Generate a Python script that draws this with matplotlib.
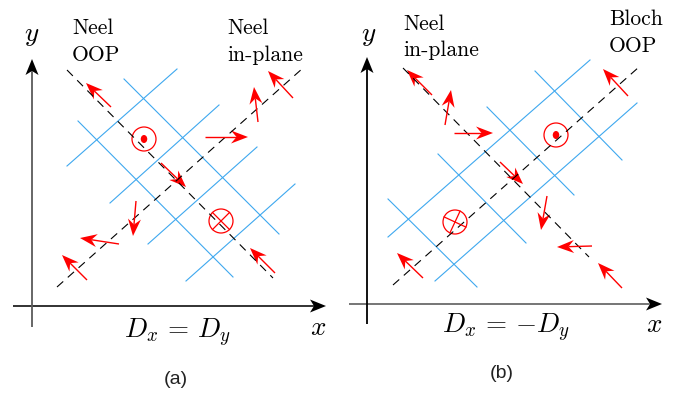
import matplotlib.pyplot as plt
import numpy as np
from matplotlib.patches import Circle, Ellipse, Polygon

plt.rcParams['mathtext.fontset'] = 'cm'

W, H = 688, 397
BLUE = '#3ea8ef'
RED = '#ff0000'

# ---- panel (a): Dx = Dy ----
grid_a = [
    ((67, 166), (177, 69)),
    ((110, 203), (219, 105)),
    ((148, 244), (257, 147)),
    ((186, 281), (295, 184)),
    ((124, 79), (279, 234)),
    ((78, 121), (233, 277)),
]
dashed_a = [((67, 70), (273, 278)), ((57, 287), (303, 68))]
# spins: (tail, head)
spins_a = [
    ((111, 107), (86, 83)),
    ((258, 122), (254, 87)),
    ((293, 98), (268, 71)),
    ((205, 137), (248, 137)),
    ((161, 163), (186, 187)),
    ((136, 201), (133, 236)),
    ((119, 244), (80, 238)),
    ((87, 280), (62, 255)),
    ((275, 273), (250, 248)),
]
dot_a = (144, 139)
cross_a = (221, 221, 45)
xaxis_a = ((13, 306), (326, 306))
yaxis_a = ((32, 327), (32, 59))
labels_a = [
    ('Neel', 72, 34), ('OOP', 72, 61),
    ('Neel', 227, 34), ('in-plane', 227, 61),
]
eq_a = (r'$D_x\,=\,D_y$', 178, 338)
xlab_a = (318, 335)
ylab_a = (32, 41)
tag_a = ('(a)', 176, 380)

# ---- panel (b): Dx = -Dy ----
grid_b = [
    ((388, 237), (590, 60)),
    ((435, 281), (637, 103)),
    ((535, 71), (622, 160)),
    ((487, 107), (574, 195)),
    ((438, 154), (526, 243)),
    ((388, 199), (477, 287)),
]
dashed_b = [((403, 68), (589, 257)), ((393, 285), (639, 67))]
spins_b = [
    ((432, 95), (407, 70)),
    ((445, 125), (451, 90)),
    ((454, 133), (493, 133)),
    ((500, 162), (523, 184)),
    ((547, 196), (541, 230)),
    ((592, 246), (557, 247)),
    ((622, 288), (598, 263)),
    ((423, 278), (397, 253)),
    ((628, 96), (603, 69)),
]
dot_b = (556, 135)
cross_b = (455, 222, 25)
xaxis_b = ((349, 304), (662, 304))
yaxis_b = ((367, 324), (367, 57))
labels_b = [
    ('Neel', 403, 30), ('in-plane', 403, 56.5),
    ('Bloch', 609, 25), ('OOP', 609, 51.5),
]
eq_b = (r'$D_x\,=\,{-}D_y$', 506, 333)
xlab_b = (654, 332)
ylab_b = (369, 41)
tag_b = ('(b)', 502, 374)


def draw_arrow(ax, tail, tip, shaft_color, head_color, lw, L, hw, notch):
    p0 = np.array(tail, float)
    p1 = np.array(tip, float)
    u = (p1 - p0) / np.hypot(*(p1 - p0))
    n = np.array([-u[1], u[0]])
    back = p1 - (L - notch) * u
    ax.plot([p0[0], back[0]], [p0[1], back[1]], color=shaft_color, lw=lw,
            solid_capstyle='butt')
    head = [p1, p1 - L * u + hw * n, back, p1 - L * u - hw * n]
    ax.add_patch(Polygon(head, closed=True, fc=head_color, ec='none'))


def draw_panel(ax, grid, dashed, spins, dot, cross, xaxis, yaxis,
               xcol, ycol, labels, eq, xlab, ylab, tag):
    for (x0, y0), (x1, y1) in grid:
        ax.plot([x0, x1], [y0, y1], color=BLUE, lw=0.8)
    for (x0, y0), (x1, y1) in dashed:
        ax.plot([x0, x1], [y0, y1], color='black', lw=0.8,
                linestyle=(0, (7.5, 5.5)))
    for tail, tip in spins:
        draw_arrow(ax, tail, tip, RED, RED, 1.0, 17, 6.5, 5.5)

    # out-of-plane up: circle with dot
    ax.add_patch(Circle(dot, 12, fill=False, ec=RED, lw=0.9))
    ax.add_patch(Ellipse(dot, 6.5, 8, fc=RED, ec='none'))
    # out-of-plane down: circle with cross
    cx, cy, ang = cross
    ax.add_patch(Circle((cx, cy), 12, fill=False, ec=RED, lw=0.9))
    for a in (ang, ang + 90):
        t = np.deg2rad(a)
        dx, dy = 12 * np.cos(t), 12 * np.sin(t)
        ax.plot([cx - dx, cx + dx], [cy - dy, cy + dy], color=RED, lw=0.9)

    draw_arrow(ax, xaxis[0], xaxis[1], xcol, 'black', 1.3, 16, 6.5, 4)
    draw_arrow(ax, yaxis[0], yaxis[1], ycol, 'black', 1.3, 16, 6.5, 4)

    for s, x, y in labels:
        ax.text(x, y, s, family='cmr10', fontsize=15.5, va='baseline',
                ha='left')
    ax.text(eq[1], eq[2], eq[0], fontsize=19.5, ha='center', va='baseline')
    ax.text(xlab[0], xlab[1], '$x$', fontsize=19.5, ha='center',
            va='baseline')
    ax.text(ylab[0], ylab[1], '$y$', fontsize=19.5, ha='center',
            va='baseline')
    ax.text(tag[1], tag[2], tag[0], family='Liberation Sans', fontsize=14,
            ha='center', va='center', color='#222222')


fig = plt.figure(figsize=(W / 100, H / 100), dpi=100)
ax = fig.add_axes([0, 0, 1, 1])
ax.set_xlim(0, W)
ax.set_ylim(H, 0)
ax.axis('off')

draw_panel(ax, grid_a, dashed_a, spins_a, dot_a, cross_a, xaxis_a, yaxis_a,
           '#222222', '#5a5a5a', labels_a, eq_a, xlab_a, ylab_a, tag_a)
draw_panel(ax, grid_b, dashed_b, spins_b, dot_b, cross_b, xaxis_b, yaxis_b,
           '#6a6a6a', 'black', labels_b, eq_b, xlab_b, ylab_b, tag_b)

fig.savefig('out.png', dpi=100)
